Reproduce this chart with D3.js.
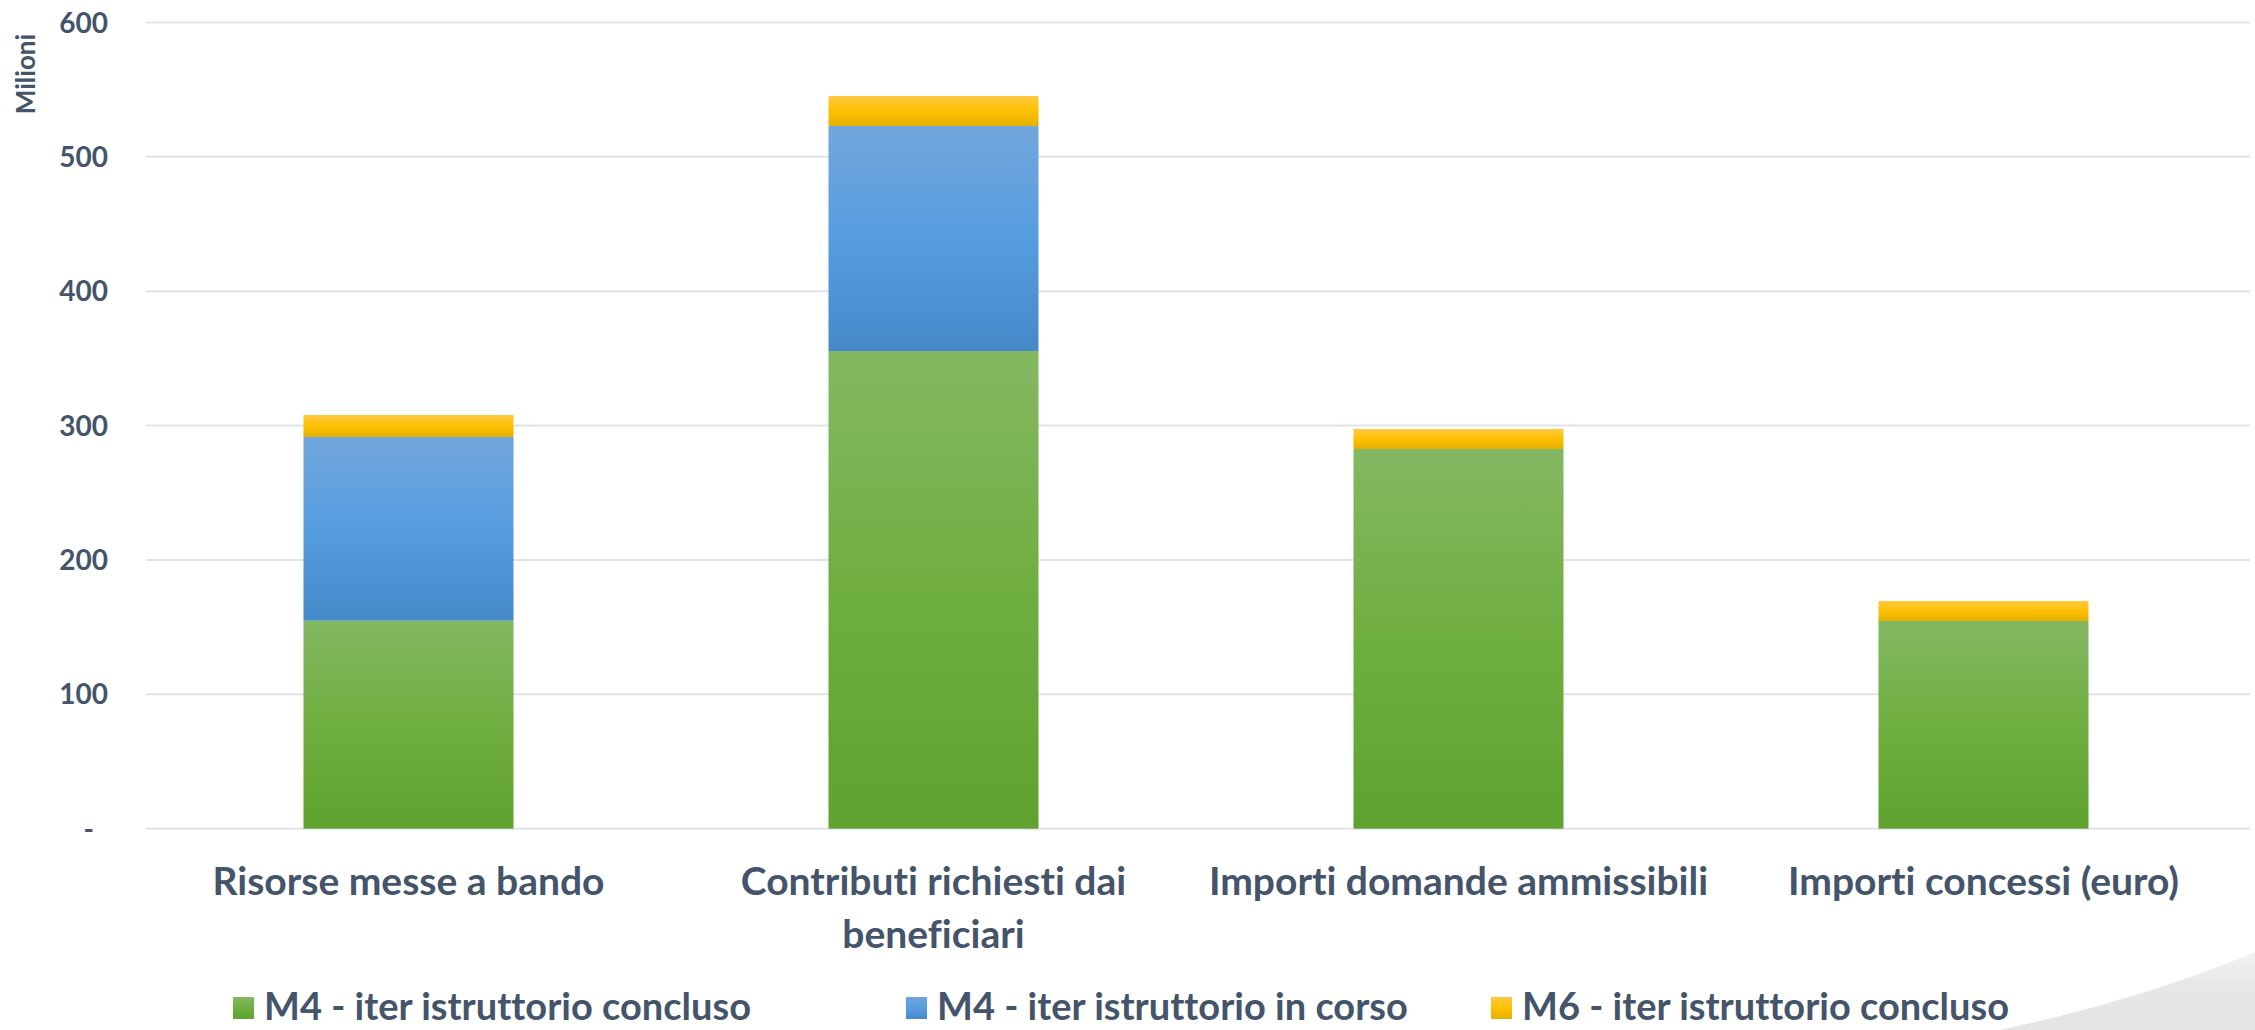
<!DOCTYPE html>
<html>
<head>
<meta charset="utf-8">
<script src="https://cdn.jsdelivr.net/npm/d3@7"></script>
<style>
    html, body { margin: 0; padding: 0; background: #fff; }
    #chart { width: 2255px; height: 1030px; overflow: hidden; }
    text { font-family: Lato, "Open Sans", sans-serif; font-weight: bold; fill: #44546a; font-variant-ligatures: none; }
</style>
</head>
<body>
<div id="chart"></div>
<script>
// values in millions of euro
const categories = ["Risorse messe a bando", "Contributi richiesti dai beneficiari", "Importi domande ammissibili", "Importi concessi (euro)"]
const categoryLines = [["Risorse messe a bando"], ["Contributi richiesti dai", "beneficiari"], ["Importi domande ammissibili"], ["Importi concessi (euro)"]]
const m4Concluso = [154.8, 355.5, 282.6, 154.6]
const m4InCorso = [136.7, 167.5, 0, 0]
const m6Concluso = [16.4, 22.3, 14.9, 14.9]
const seriesNames = ["M4 - iter istruttorio concluso", "M4 - iter istruttorio in corso", "M6 - iter istruttorio concluso"]
const yTicks = [0, 100, 200, 300, 400, 500, 600]
const yTickLabels = ["-\u2002", "100", "200", "300", "400", "500", "600"]
const axisTitle = "Milioni"

const width = 2255
const height = 1030

var svg = d3.select("#chart")
    .append("svg")
        .attr("width", width)
        .attr("height", height)

// gradients like the office preset fills
const grads = [
    { id: "g-green", stops: ["#83b862", "#6fae40", "#5fa22f"] },
    { id: "g-blue", stops: ["#72a6dc", "#569de0", "#4589c8"] },
    { id: "g-yellow", stops: ["#ffc943", "#ffc000", "#e4b000"] }
]
var defs = svg.append("defs")
grads.forEach(g => {
    var lg = defs.append("linearGradient")
        .attr("id", g.id)
        .attr("x1", 0).attr("y1", 0).attr("x2", 0).attr("y2", 1)
    g.stops.forEach((c, i) => {
        lg.append("stop").attr("offset", i / 2).attr("stop-color", c)
    })
})
var sw = defs.append("linearGradient")
    .attr("id", "g-swoosh")
    .attr("x1", 0).attr("y1", 0).attr("x2", 0).attr("y2", 1)
sw.append("stop").attr("offset", 0).attr("stop-color", "#f3f3f3")
sw.append("stop").attr("offset", 0.4).attr("stop-color", "#e7e7e6")
sw.append("stop").attr("offset", 1).attr("stop-color", "#e4e4e3")

// decorative grey swoosh bottom right
svg.append("path")
    .attr("d", "M2000,1030 Q2140,1000 2255,952 L2255,1030 Z")
    .attr("fill", "url(#g-swoosh)")

const x = d3.scaleBand()
    .domain(categories)
    .range([146, 2246])
    .paddingInner(0.6)
    .paddingOuter(0.3)

const y = d3.scaleLinear()
    .domain([0, 600])
    .range([828.7, 22.5])

// gridlines
svg.append("g")
    .selectAll("line")
    .data(yTicks)
    .enter().append("line")
        .attr("x1", 146)
        .attr("x2", 2250)
        .attr("y1", d => y(d))
        .attr("y2", d => y(d))
        .attr("stroke", "#dfe3e9")
        .attr("stroke-width", 2)

// y axis labels
svg.append("g")
    .selectAll("text")
    .data(yTicks)
    .enter().append("text")
        .attr("x", 108)
        .attr("y", d => y(d))
        .attr("dy", "0.36em")
        .attr("text-anchor", "end")
        .attr("font-size", 28)
        .style("white-space", "pre")
        .text((d, i) => yTickLabels[i])

svg.append("text")
    .attr("transform", "translate(35, 74) rotate(-90)")
    .attr("text-anchor", "middle")
    .attr("font-size", 26)
    .text(axisTitle)

// stacked bars
var table = categories.map((c, i) => ({ cat: c, s0: m4Concluso[i], s1: m4InCorso[i], s2: m6Concluso[i] }))
var stacked = d3.stack().keys(["s0", "s1", "s2"])(table)

svg.append("g")
    .selectAll("g")
    .data(stacked)
    .enter().append("g")
        .attr("fill", (d, i) => "url(#" + grads[i].id + ")")
    .selectAll("rect")
    .data(d => d.filter(p => p[1] - p[0] > 0))
    .enter().append("rect")
        .attr("x", d => x(d.data.cat))
        .attr("width", x.bandwidth())
        .attr("y", d => y(d[1]))
        .attr("height", d => y(d[0]) - y(d[1]))

// category labels
var catG = svg.append("g")
    .selectAll("text")
    .data(categories)
    .enter().append("text")
        .attr("text-anchor", "middle")
        .attr("font-size", 39)
        .attr("x", d => x(d) + x.bandwidth() / 2)
        .attr("y", 895)
catG.each(function (d, i) {
    var t = d3.select(this)
    categoryLines[i].forEach((line, j) => {
        t.append("tspan")
            .attr("x", x(d) + x.bandwidth() / 2)
            .attr("y", 895 + j * 53)
            .text(line)
    })
})

// legend
const legendX = [233, 906, 1491]
var leg = svg.append("g")
    .selectAll("g")
    .data(seriesNames)
    .enter().append("g")
        .attr("transform", (d, i) => `translate(${legendX[i]}, 997)`)
leg.append("rect")
    .attr("width", 21)
    .attr("height", 22)
    .attr("fill", (d, i) => "url(#" + grads[i].id + ")")
leg.append("text")
    .attr("x", 31)
    .attr("y", 23)
    .attr("font-size", 38)
    .text(d => d)
</script>
</body>
</html>
